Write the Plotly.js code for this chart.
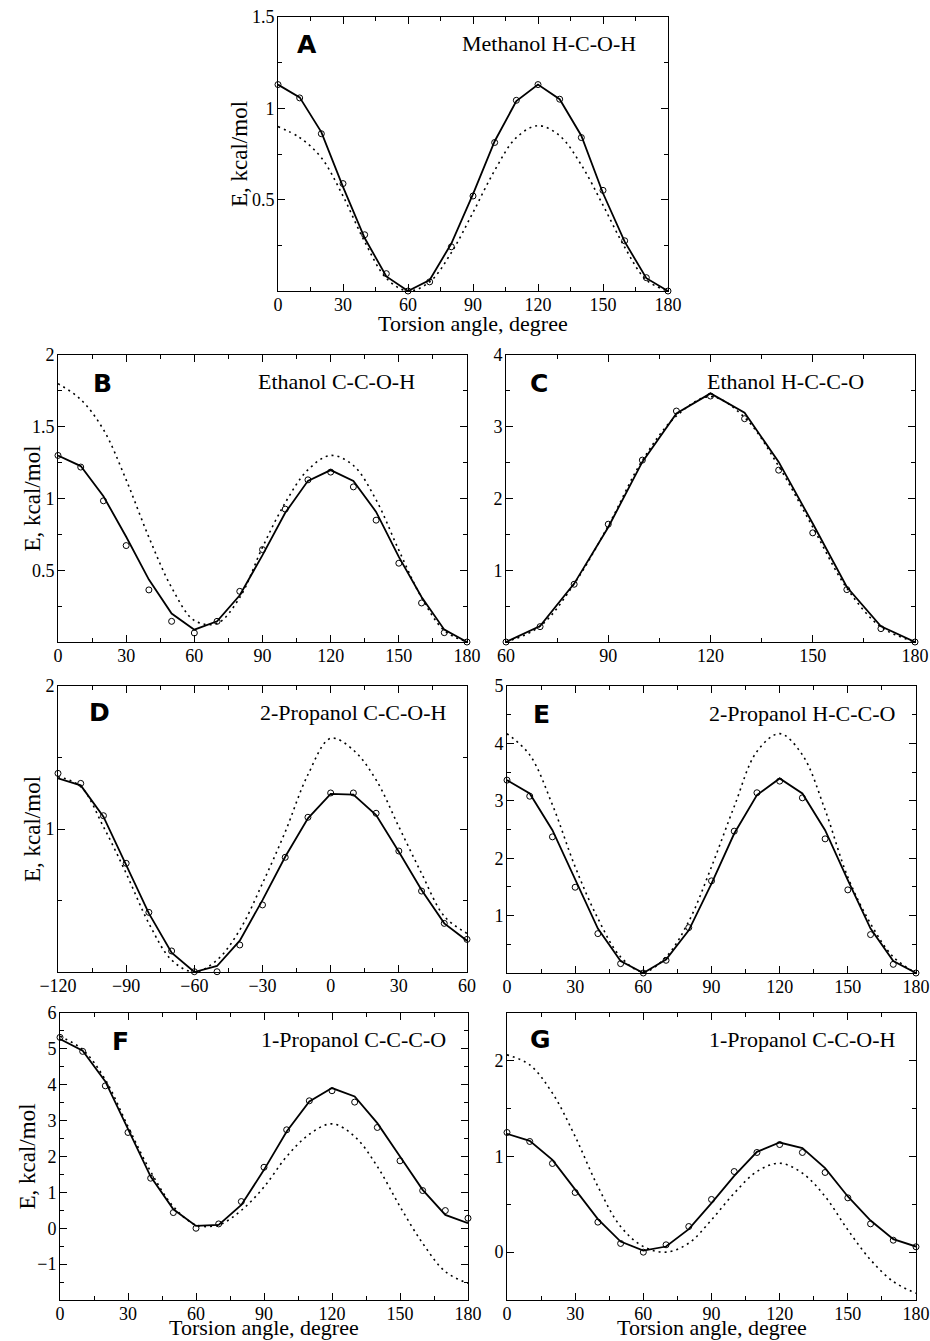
<!DOCTYPE html>
<html>
<head>
<meta charset="utf-8">
<script src="https://cdn.plot.ly/plotly-3.0.1.min.js"></script>
<style>html,body{margin:0;padding:0;background:#fff;}#chart{width:930px;height:1341px;}</style>
</head>
<body>
<div id="chart"></div>
<script>
// ---------- data ----------
const angles0to180 = [0,10,20,30,40,50,60,70,80,90,100,110,120,130,140,150,160,170,180];
const angles60to180 = [60,70,80,90,100,110,120,130,140,150,160,170,180];
const anglesM120to60 = [-120,-110,-100,-90,-80,-70,-60,-50,-40,-30,-20,-10,0,10,20,30,40,50,60];

// A: Methanol H-C-O-H
const qmA  = [1.13,1.057,0.861,0.588,0.308,0.095,0,0.05,0.242,0.52,0.813,1.044,1.13,1.05,0.84,0.551,0.275,0.073,0];
const fitA = [1.13,1.06,0.87,0.57,0.29,0.08,0,0.06,0.26,0.53,0.82,1.04,1.13,1.05,0.85,0.535,0.27,0.07,0];
const ffA  = [0.90,0.84,0.73,0.52,0.27,0.07,0,0.05,0.21,0.43,0.66,0.84,0.905,0.85,0.69,0.47,0.24,0.06,0];

// B: Ethanol C-C-O-H
const qmB  = [1.30,1.219,0.984,0.672,0.363,0.144,0.063,0.144,0.353,0.644,0.926,1.13,1.184,1.081,0.849,0.549,0.272,0.065,0];
const fitB = [1.30,1.226,1.016,0.733,0.435,0.198,0.086,0.144,0.326,0.605,0.90,1.123,1.198,1.123,0.907,0.593,0.314,0.086,0];
const ffB  = [1.80,1.69,1.48,1.13,0.73,0.38,0.15,0.13,0.31,0.66,0.97,1.20,1.30,1.23,0.99,0.64,0.31,0.08,0];

// C: Ethanol H-C-C-O
const qmC  = [0,0.214,0.805,1.642,2.535,3.219,3.428,3.112,2.395,1.521,0.73,0.186,0];
const fitC = [0,0.223,0.814,1.60,2.51,3.186,3.465,3.195,2.51,1.651,0.767,0.219,0];
const ffC  = [0,0.22,0.81,1.62,2.53,3.15,3.42,3.13,2.45,1.60,0.75,0.21,0];

// D: 2-Propanol C-C-O-H
const qmD  = [1.389,1.319,1.093,0.76,0.417,0.147,0.002,0.002,0.189,0.469,0.802,1.082,1.252,1.252,1.11,0.846,0.566,0.34,0.228];
const fitD = [1.354,1.305,1.086,0.748,0.41,0.135,0,0.042,0.219,0.503,0.806,1.075,1.245,1.24,1.098,0.841,0.573,0.34,0.219];
const ffD  = [1.366,1.296,1.016,0.69,0.34,0.084,0,0.084,0.294,0.62,0.98,1.38,1.634,1.552,1.343,1.016,0.69,0.39,0.27];

// E: 2-Propanol H-C-C-O
const qmE  = [3.36,3.08,2.372,1.494,0.686,0.163,0,0.221,0.791,1.605,2.471,3.14,3.343,3.052,2.337,1.448,0.669,0.151,0];
const fitE = [3.36,3.128,2.488,1.616,0.773,0.209,0,0.233,0.744,1.558,2.43,3.099,3.39,3.128,2.488,1.616,0.773,0.209,0];
const ffE  = [4.17,3.80,2.93,1.85,0.95,0.28,0.02,0.28,0.90,1.85,2.90,3.86,4.17,3.80,2.84,1.67,0.86,0.28,0];

// F: 1-Propanol C-C-C-O
const qmF  = [5.32,4.93,3.97,2.67,1.395,0.437,0,0.121,0.744,1.70,2.744,3.553,3.833,3.516,2.809,1.879,1.051,0.493,0.279];
const fitF = [5.274,4.949,4.093,2.79,1.442,0.53,0.065,0.093,0.651,1.628,2.698,3.535,3.907,3.674,2.93,2.0,1.07,0.372,0.14];
const ffF  = [5.35,4.977,4.14,2.837,1.58,0.605,0.093,0.093,0.5,1.15,2.0,2.62,2.91,2.558,1.721,0.605,-0.419,-1.209,-1.535];

// G: 1-Propanol C-C-O-H
const qmG  = [1.251,1.157,0.927,0.624,0.314,0.091,0,0.077,0.268,0.551,0.843,1.042,1.125,1.042,0.833,0.568,0.296,0.125,0.056];
const fitG = [1.237,1.164,0.965,0.659,0.345,0.111,0.017,0.059,0.24,0.512,0.798,1.049,1.146,1.087,0.878,0.582,0.331,0.136,0.059];
const ffG  = [2.063,1.958,1.662,1.209,0.686,0.268,0.059,0.0,0.094,0.338,0.617,0.843,0.93,0.826,0.582,0.233,-0.08,-0.307,-0.429];

// tick labels
const xTicks0to180 = [0,30,60,90,120,150,180];
const xTicks60to180 = [60,90,120,150,180];
const xTicksM120to60 = [-120,-90,-60,-30,0,30,60];
const yTicksA = [0.5,1,1.5];
const yTicksB = [0.5,1,1.5,2];
const yTicksC = [1,2,3,4];
const yTicksD = [1,2];
const yTicksE = [1,2,3,4,5];
const yTicksF = [-1,0,1,2,3,4,5,6];
const yTicksG = [0,1,2];

const panelLetters = ['A','B','C','D','E','F','G'];
const panelNames = ['Methanol H-C-O-H','Ethanol C-C-O-H','Ethanol H-C-C-O','2-Propanol C-C-O-H','2-Propanol H-C-C-O','1-Propanol C-C-C-O','1-Propanol C-C-O-H'];
const yTitle = 'E, kcal/mol';
const xTitle = 'Torsion angle, degree';

// ---------- layout helpers ----------
const W = 930, H = 1341;
const SERIF = 'Liberation Serif, Times New Roman, serif';
function dx(a,b){return [a/W, b/W];}
function dy(top,bottom){return [1-bottom/H, 1-top/H];}

const panels = [
  {x:angles0to180, qm:qmA, fit:fitA, ff:ffA, xr:[0,180], yr:[0,1.5], xt:xTicks0to180, yt:yTicksA, xm:15, ym:0.25, dom:[dx(278,668), dy(17,291)], yT:240, xT:323, L:[0.044,0.898], N:[0.923,0.905]},
  {x:angles0to180, qm:qmB, fit:fitB, ff:ffB, xr:[0,180], yr:[0,2], xt:xTicks0to180, yt:yTicksB, xm:15, ym:0.25, dom:[dx(58,467), dy(355,642)], yT:32, xT:null, L:[0.081,0.902], N:[0.878,0.906]},
  {x:angles60to180, qm:qmC, fit:fitC, ff:ffC, xr:[60,180], yr:[0,4], xt:xTicks60to180, yt:yTicksC, xm:15, ym:0.5, dom:[dx(506,915), dy(355,642)], yT:null, xT:null, L:[0.054,0.902], N:[0.88,0.906]},
  {x:anglesM120to60, qm:qmD, fit:fitD, ff:ffD, xr:[-120,60], yr:[0,2], xt:xTicksM120to60, yt:yTicksD, xm:15, ym:0.5, dom:[dx(58,467), dy(686,972)], yT:32, xT:null, L:[0.071,0.906], N:[0.954,0.906]},
  {x:angles0to180, qm:qmE, fit:fitE, ff:ffE, xr:[0,180], yr:[0,5], xt:xTicks0to180, yt:yTicksE, xm:15, ym:0.5, dom:[dx(507,916), dy(686,973)], yT:null, xT:null, L:[0.059,0.899], N:[0.954,0.903]},
  {x:angles0to180, qm:qmF, fit:fitF, ff:ffF, xr:[0,180], yr:[-2,6], xt:xTicks0to180, yt:yTicksF, xm:15, ym:0.5, dom:[dx(60,468), dy(1013,1300)], yT:27, xT:1327, L:[0.123,0.902], N:[0.951,0.909]},
  {x:angles0to180, qm:qmG, fit:fitG, ff:ffG, xr:[0,180], yr:[-0.5,2.5], xt:xTicks0to180, yt:yTicksG, xm:15, ym:0.5, dom:[dx(507,916), dy(1013,1300)], yT:null, xT:1327, L:[0.051,0.906], N:[0.954,0.906]}
];

const traces = [];
const layout = {
  width: W, height: H,
  margin: {l:0, r:0, t:0, b:0},
  paper_bgcolor: '#fff', plot_bgcolor: '#fff',
  showlegend: false,
  annotations: []
};

panels.forEach((p, i) => {
  const n = i === 0 ? '' : String(i+1);
  const xa = 'x' + n, ya = 'y' + n;
  traces.push({x:p.x, y:p.ff, xaxis:xa, yaxis:ya, type:'scatter', mode:'lines',
    line:{color:'#000', width:1.6, dash:'2px,4px', shape:'spline', smoothing:1}, hoverinfo:'skip'});
  traces.push({x:p.x, y:p.fit, xaxis:xa, yaxis:ya, type:'scatter', mode:'lines',
    line:{color:'#000', width:1.8}, hoverinfo:'skip'});
  traces.push({x:p.x, y:p.qm, xaxis:xa, yaxis:ya, type:'scatter', mode:'markers',
    marker:{symbol:'circle-open', size:6, color:'#000', line:{width:1}}, cliponaxis:false, hoverinfo:'skip'});

  const common = {showgrid:false, zeroline:false, showline:true, linecolor:'#000', linewidth:1,
    mirror:'ticks', ticks:'inside', ticklen:7, tickwidth:1, tickcolor:'#000',
    tickfont:{family:SERIF, size:18, color:'#000'}, fixedrange:true};
  layout['xaxis'+n] = Object.assign({}, common, {
    domain:p.dom[0], range:p.xr, anchor:ya, tickmode:'array', tickvals:p.xt, ticklabelstandoff:-3,
    minor:{ticks:'inside', dtick:p.xm, tick0:p.xr[0], ticklen:4, tickwidth:1, tickcolor:'#000'}
  });
  layout['yaxis'+n] = Object.assign({}, common, {
    domain:p.dom[1], range:p.yr, anchor:xa, tickmode:'array', tickvals:p.yt, ticklabelstandoff:-1,
    minor:{ticks:'inside', dtick:p.ym, tick0:0, ticklen:4, tickwidth:1, tickcolor:'#000'}
  });

  // axis titles
  if (p.yT !== null) {
    layout.annotations.push({xref:'paper', yref:ya+' domain', x:p.yT/W, y:0.5, xanchor:'center', yanchor:'middle',
      textangle:-90, text:yTitle, showarrow:false, font:{family:SERIF, size:23, color:'#000'}});
  }
  if (p.xT !== null) {
    layout.annotations.push({xref:xa+' domain', yref:'paper', x:0.5, y:1-p.xT/H, xanchor:'center', yanchor:'middle',
      text:xTitle, showarrow:false, font:{family:SERIF, size:22, color:'#000'}});
  }
  // panel letter and name
  layout.annotations.push({xref:xa+' domain', yref:ya+' domain', x:p.L[0], y:p.L[1], xanchor:'left', yanchor:'middle',
    text:'<b>'+panelLetters[i]+'</b>', showarrow:false, font:{family:'DejaVu Sans, Arial Black, sans-serif', size:25, color:'#000'}});
  layout.annotations.push({xref:xa+' domain', yref:ya+' domain', x:p.N[0], y:p.N[1], xanchor:'right', yanchor:'middle',
    text:panelNames[i], showarrow:false, font:{family:SERIF, size:22, color:'#000'}});
});

Plotly.newPlot('chart', traces, layout, {staticPlot:true, displayModeBar:false});
</script>
</body>
</html>
